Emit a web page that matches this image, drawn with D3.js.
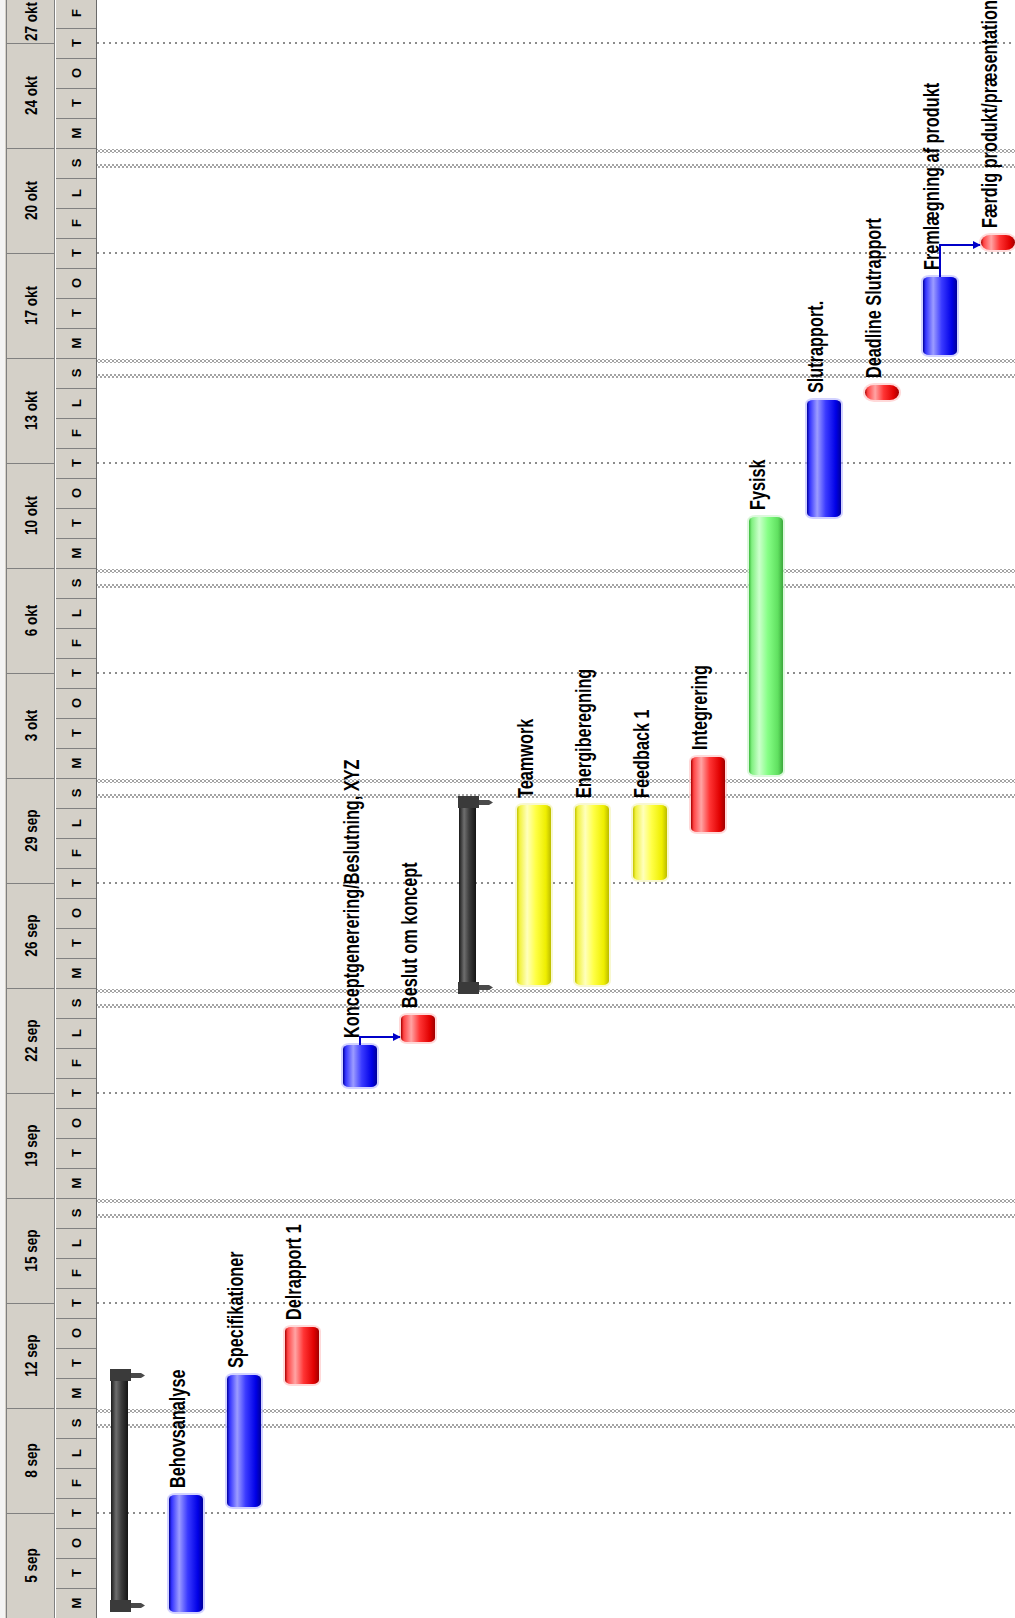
<!DOCTYPE html>
<html>
<head>
<meta charset="utf-8">
<script src="https://cdn.jsdelivr.net/npm/d3@7"></script>
<style>
  html, body { margin: 0; padding: 0; background: #ffffff; }
  svg { display: block; }
</style>
</head>
<body>
<svg id="chart" width="1015" height="1618"></svg>
<script>
// ---- Project plan (time in working days from project start, runs bottom -> top) ----
const taskNames = [
  "Fase 1", "Behovsanalyse", "Specifikationer", "Delrapport 1",
  "Konceptgenerering/Beslutning, XYZ", "Beslut om koncept", "Fase 2",
  "Teamwork", "Energiberegning", "Feedback 1", "Integrering", "Fysisk",
  "Slutrapport.", "Deadline Slutrapport", "Fremlægning af produkt",
  "Færdig produkt/præsentation"
];
const taskStart = [0.2, 0.2, 3.7, 7.8, 17.7, 19.2, 20.8, 21.1, 21.1, 24.6, 26.2, 28.1, 36.7, 40.6, 42.1, 45.6];
const taskEnd   = [8.3, 4.1, 8.1, 9.7, 19.1, 20.1, 27.4, 27.1, 27.1, 27.1, 28.7, 36.7, 40.6, 41.1, 44.7, 46.1];
const taskKind  = ["summary", "blue", "blue", "red", "blue", "red", "summary",
                   "yellow", "yellow", "yellow", "red", "green", "blue", "red", "blue", "red"];
// finish-to-start links: [predecessor index, successor index]
const links = [[4, 5], [14, 15]];

// ---- Timescale labels ----
const periodLabels = ["5 sep", "8 sep", "12 sep", "15 sep", "19 sep", "22 sep", "26 sep", "29 sep",
                      "3 okt", "6 okt", "10 okt", "13 okt", "17 okt", "20 okt", "24 okt", "27 okt"];
const dayLetters = ["M", "T", "O", "T", "F", "L", "S"];

const W = 1015, H = 1618;
const svg = d3.select("#chart");
const defs = svg.append("defs");

// time runs upward
const y = d3.scaleLinear().domain([0, 54]).range([H, H - 54 * 30]);
const x = d3.scaleBand().domain(taskNames).range([104, 104 + taskNames.length * 58]);

const tasks = taskNames.map((name, i) => ({
  name, i, start: taskStart[i], end: taskEnd[i], kind: taskKind[i]
}));

// ---- gradients for the cylinder-shaped bars ----
const palettes = {
  blue:    [[0, "#00009a"], [0.08, "#3434ff"], [0.3, "#9c9cff"], [0.55, "#3a3aff"], [0.85, "#0000e6"], [1, "#00009a"]],
  red:     [[0, "#a80000"], [0.08, "#ff4545"], [0.3, "#ffa4a4"], [0.55, "#ff3434"], [0.85, "#e00000"], [1, "#a00000"]],
  yellow:  [[0, "#c4c400"], [0.08, "#f2f240"], [0.3, "#ffffbc"], [0.55, "#ffff45"], [0.85, "#eeee00"], [1, "#bcbc00"]],
  green:   [[0, "#3cb83c"], [0.08, "#80f080"], [0.3, "#ccffcc"], [0.55, "#86ff86"], [0.85, "#60e060"], [1, "#3ca83c"]],
  summary: [[0, "#1a1a1a"], [0.3, "#6e6e6e"], [0.6, "#3c3c3c"], [1, "#141414"]]
};
const halo = { blue: "#b4b4ff", red: "#ffc0c0", yellow: "#f4f4b0", green: "#c4f4c4" };

Object.entries(palettes).forEach(([key, stops]) => {
  const g = defs.append("linearGradient").attr("id", "g-" + key)
    .attr("x1", 0).attr("x2", 1).attr("y1", 0).attr("y2", 0);
  stops.forEach(([o, c]) => g.append("stop").attr("offset", o).attr("stop-color", c));
});

// checkered pattern for the heavy gridlines
const pat = defs.append("pattern").attr("id", "checker")
  .attr("width", 4).attr("height", 4).attr("patternUnits", "userSpaceOnUse");
pat.append("rect").attr("width", 4).attr("height", 4).attr("fill", "#ffffff");
pat.append("rect").attr("width", 2).attr("height", 2).attr("fill", "#a4a4a4");
pat.append("rect").attr("x", 2).attr("y", 2).attr("width", 2).attr("height", 2).attr("fill", "#a4a4a4");

// arrow head for links
defs.append("marker").attr("id", "arrow")
  .attr("viewBox", "0 0 10 10").attr("refX", 9).attr("refY", 5)
  .attr("markerWidth", 4).attr("markerHeight", 4).attr("orient", "auto")
  .append("path").attr("d", "M0,0 L10,5 L0,10 Z").attr("fill", "#0000c8");

// ---- gridlines ----
const gridX0 = 97;
const grid = svg.append("g");
const weekDays = d3.range(7, 54, 7);
const midDays = d3.range(3.5, 54, 7);

weekDays.forEach(d => {
  [-0.6, -0.1].forEach(off => {
    grid.append("rect")
      .attr("x", gridX0).attr("width", W - gridX0)
      .attr("y", y(d + off) - 2).attr("height", 4)
      .attr("fill", "url(#checker)");
  });
});
grid.selectAll("line.mid").data(midDays).join("line")
  .attr("class", "mid")
  .attr("x1", gridX0).attr("x2", W)
  .attr("y1", d => y(d)).attr("y2", d => y(d))
  .attr("stroke", "#8c8c8c").attr("stroke-width", 2)
  .attr("stroke-dasharray", "2,4");

// ---- timescale header (left side) ----
const header = svg.append("g");
header.append("rect").attr("x", 0).attr("y", 0).attr("width", 97).attr("height", H).attr("fill", "#d4d0c8");
header.append("rect").attr("x", 0).attr("y", 0).attr("width", 5).attr("height", H).attr("fill", "#f4f4f4");
[[6, "#808080"], [54, "#808080"], [55, "#ffffff"], [96, "#6a6a6a"]].forEach(([lx, c]) => {
  header.append("line").attr("x1", lx + 0.5).attr("x2", lx + 0.5).attr("y1", 0).attr("y2", H)
    .attr("stroke", c).attr("stroke-width", 1);
});

// outer tier: half-week periods
const periodStarts = d3.range(0, 56, 3.5);
header.selectAll("line.pb").data(periodStarts).join("line")
  .attr("class", "pb")
  .attr("x1", 7).attr("x2", 54)
  .attr("y1", d => Math.round(y(d)) + 0.5).attr("y2", d => Math.round(y(d)) + 0.5)
  .attr("stroke", "#808080");
header.selectAll("text.pl").data(periodStarts).join("text")
  .attr("class", "pl")
  .attr("transform", (d, i) => {
    const top = Math.max(y(d + 3.5), 0), bottom = Math.min(y(d), H);
    return `translate(37,${(top + bottom) / 2}) rotate(-90) scale(0.85,1)`;
  })
  .attr("text-anchor", "middle")
  .attr("font-family", "'Liberation Sans', Arial, sans-serif")
  .attr("font-weight", "bold").attr("font-size", 16).attr("fill", "#000")
  .text((d, i) => periodLabels[i]);

// inner tier: days
const dayStarts = d3.range(0, 54, 1);
header.selectAll("line.db").data(dayStarts).join("line")
  .attr("class", "db")
  .attr("x1", 56).attr("x2", 96)
  .attr("y1", d => Math.round(y(d)) + 0.5).attr("y2", d => Math.round(y(d)) + 0.5)
  .attr("stroke", "#808080");
header.selectAll("text.dl").data(dayStarts).join("text")
  .attr("class", "dl")
  .attr("transform", d => `translate(81,${y(d + 0.5)}) rotate(-90)`)
  .attr("text-anchor", "middle")
  .attr("font-family", "'Liberation Sans', Arial, sans-serif")
  .attr("font-weight", "bold").attr("font-size", 13).attr("fill", "#000")
  .text(d => dayLetters[d % 7]);

// ---- bars ----
const BAR_W = 34, SUM_W = 17, BAR_OFF = 7;
const bars = svg.append("g");

tasks.forEach(t => {
  const bx = x(t.name) + BAR_OFF;
  const top = y(t.end), bottom = y(t.start);
  const h = bottom - top;
  if (t.kind === "summary") {
    const g = bars.append("g");
    g.append("rect").attr("x", bx).attr("y", top).attr("width", SUM_W).attr("height", h)
      .attr("fill", "url(#g-summary)");
    // end caps with a small tab pointing right
    [[top, 1], [bottom, -1]].forEach(([yy, dir]) => {
      const y0 = dir > 0 ? yy : yy - 12;
      g.append("rect").attr("x", bx - 1).attr("y", y0).attr("width", SUM_W + 4).attr("height", 12)
        .attr("fill", "#3a3a3a");
      const ty = dir > 0 ? yy + 4 : yy - 9;
      g.append("path")
        .attr("d", `M${bx + SUM_W + 3},${ty} h10 l4,2.5 l-4,2.5 h-10 Z`)
        .attr("fill", "#4a4a4a");
    });
    return;
  }
  const small = h < 20;
  const rx = small ? 9 : 6, ry = small ? h / 2 : 4;
  bars.append("rect")
    .attr("x", bx - 2).attr("y", top - 2).attr("width", BAR_W + 4).attr("height", h + 4)
    .attr("rx", rx + 2).attr("ry", ry + 2)
    .attr("fill", halo[t.kind]).attr("opacity", 0.6);
  bars.append("rect")
    .attr("x", bx).attr("y", top).attr("width", BAR_W).attr("height", h)
    .attr("rx", rx).attr("ry", ry)
    .attr("fill", `url(#g-${t.kind})`);
});

// ---- links ----
links.forEach(([a, b]) => {
  const p = tasks[a], s = tasks[b];
  const xc = x(p.name) + BAR_OFF + BAR_W / 2;
  const yt = y(s.start) - 5;
  svg.append("path")
    .attr("d", `M${xc},${y(p.end)} V${yt} H${x(s.name) + BAR_OFF - 1}`)
    .attr("fill", "none").attr("stroke", "#0000c8").attr("stroke-width", 2)
    .attr("marker-end", "url(#arrow)");
});

// ---- task labels, written upward above each bar ----
svg.append("g").selectAll("text")
  .data(tasks.filter(t => t.kind !== "summary"))
  .join("text")
  .attr("transform", t => `translate(${x(t.name) + BAR_OFF + 16},${y(t.end) - 7}) rotate(-90) scale(0.74,1)`)
  .attr("font-family", "'Liberation Sans', Arial, sans-serif")
  .attr("font-weight", "bold").attr("font-size", 22).attr("fill", "#000")
  .text(t => t.name);
</script>
</body>
</html>
